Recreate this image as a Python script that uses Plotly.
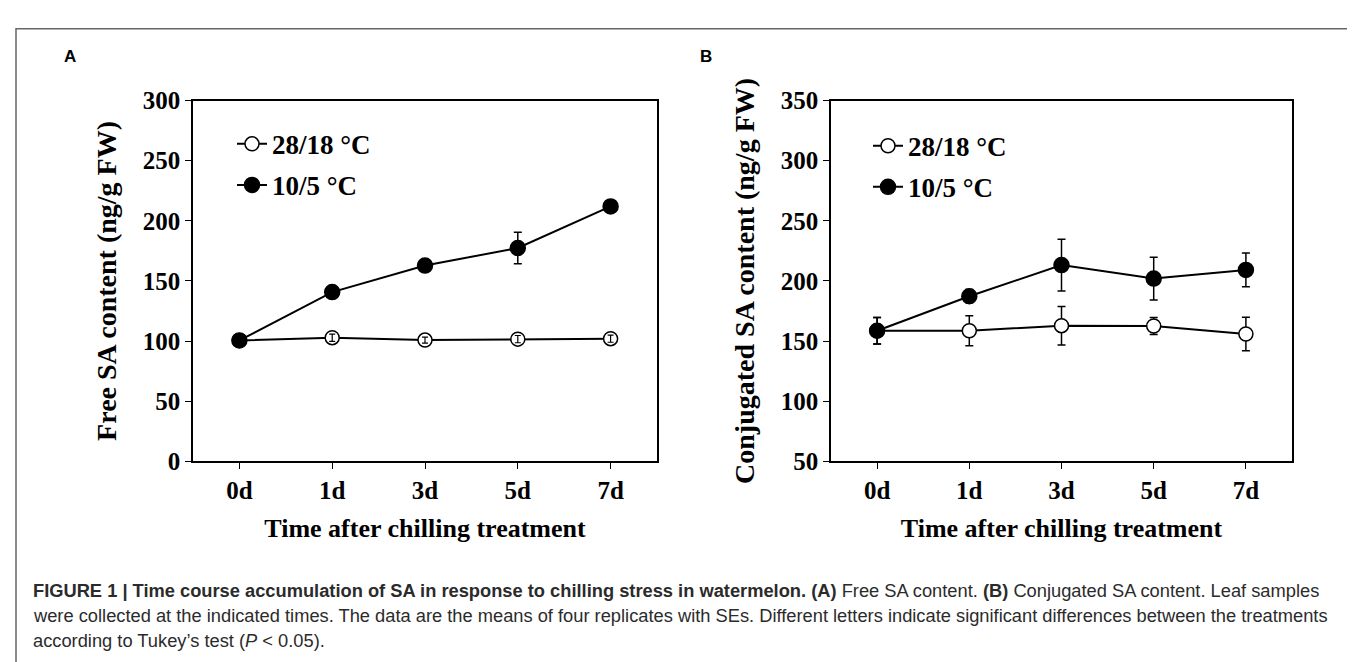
import plotly.graph_objects as go

# ---------------- data ----------------
days = ["0d", "1d", "3d", "5d", "7d"]

free_warm = [100.5, 102.8, 100.8, 101.6, 102.0]
free_warm_err = [1.5, 3.0, 2.5, 3.0, 3.0]
free_cold = [100.5, 140.7, 162.8, 177.4, 212.0]
free_cold_err = [2.0, 2.5, 2.5, 13.0, 2.5]

conj_warm = [158.6, 158.6, 162.8, 162.5, 155.9]
conj_warm_err = [11.0, 12.5, 16.0, 7.0, 14.0]
conj_cold = [158.6, 187.3, 213.2, 202.0, 209.2]
conj_cold_err = [11.0, 5.5, 21.5, 17.8, 14.0]

series_names = ["28/18 °C", "10/5 °C"]
y_ticks_a = [0, 50, 100, 150, 200, 250, 300]
y_ticks_b = [50, 100, 150, 200, 250, 300, 350]

# ---------------- styles ----------------
W, H = 1355, 662
SERIF = "Liberation Serif, Times New Roman, serif"
SANS = "Liberation Sans, Arial, Helvetica, sans-serif"
BLACK = "#000000"

def px_x(v):
    return v / W

def px_y(v):
    return 1 - v / H

dom_y = [px_y(459), px_y(83)]
dom_xa = [px_x(185), px_x(649)]
dom_xb = [px_x(823), px_x(1284)]

fig = go.Figure()

def add_series(xa, ya, yvals, errs, name, filled, legend, overlay_err=False):
    marker = dict(
        symbol="circle",
        size=15 if filled else 14,
        color=BLACK if filled else "white",
        line=dict(color=BLACK, width=1.5),
    )
    fig.add_trace(go.Scatter(
        x=days, y=yvals, name=name, mode="lines+markers",
        line=dict(color=BLACK, width=2),
        marker=marker,
        error_y=dict(type="data", array=errs, visible=not overlay_err,
                     color=BLACK, thickness=1.5, width=4),
        xaxis=xa, yaxis=ya, legend=legend, legendgroup=legend + name,
    ))
    if overlay_err:
        fig.add_trace(go.Scatter(
            x=days, y=yvals, mode="markers", showlegend=False,
            marker=dict(size=1, color="rgba(0,0,0,0)"),
            error_y=dict(type="data", array=errs, color=BLACK,
                         thickness=1.2, width=3),
            xaxis=xa, yaxis=ya, hoverinfo="skip",
        ))

# Panel A
add_series("x", "y", free_warm, free_warm_err, series_names[0], False, "legend", overlay_err=True)
add_series("x", "y", free_cold, free_cold_err, series_names[1], True, "legend")
# Panel B
add_series("x2", "y2", conj_warm, conj_warm_err, series_names[0], False, "legend2")
add_series("x2", "y2", conj_cold, conj_cold_err, series_names[1], True, "legend2")

tickfont = dict(family=SERIF, size=25, color=BLACK, weight="bold")
xtitlefont = dict(family=SERIF, size=26, color=BLACK, weight="bold")
ytitlefont = dict(family=SERIF, size=28, color=BLACK, weight="bold")

xaxis_common = dict(
    type="category", range=[-0.5, 4.5],
    showline=True, linecolor=BLACK, linewidth=1.5, mirror=True,
    ticks="outside", ticklen=6, tickwidth=1.2, tickcolor=BLACK,
    showgrid=False, zeroline=False, tickfont=tickfont,
    title=dict(text="Time after chilling treatment", font=xtitlefont, standoff=16),
)
yaxis_common = dict(
    showline=True, linecolor=BLACK, linewidth=1.5, mirror=True,
    ticks="outside", ticklen=6, tickwidth=1.2, tickcolor=BLACK,
    showgrid=False, zeroline=False, tickfont=tickfont,
)

legend_common = dict(
    font=dict(family=SERIF, size=27, color=BLACK, weight="bold"),
    bgcolor="rgba(0,0,0,0)", borderwidth=0,
    xanchor="left", yanchor="top",
    traceorder="grouped", tracegroupgap=3,
    itemwidth=30,
)

fig.update_layout(
    width=W, height=H,
    margin=dict(l=0, r=0, t=0, b=0),
    paper_bgcolor="white", plot_bgcolor="white",
    showlegend=True,
    xaxis=dict(domain=dom_xa, anchor="y", **xaxis_common),
    yaxis=dict(domain=dom_y, anchor="x", range=[0, 300], tickvals=y_ticks_a,
               title=dict(text="Free SA content (ng/g FW)", font=ytitlefont, standoff=18),
               **yaxis_common),
    xaxis2=dict(domain=dom_xb, anchor="y2", **xaxis_common),
    yaxis2=dict(domain=dom_y, anchor="x2", range=[50, 350], tickvals=y_ticks_b,
                title=dict(text="Conjugated SA content (ng/g FW)", font=ytitlefont, standoff=18),
                **yaxis_common),
    legend=dict(x=px_x(224), y=px_y(103), **legend_common),
    legend2=dict(x=px_x(860), y=px_y(105), **legend_common),
)

# outer figure frame (decorative)
fig.add_shape(type="rect", xref="paper", yref="paper",
              x0=px_x(8), x1=1.2, y0=-0.2, y1=px_y(8),
              line=dict(color="#666666", width=1.5), layer="below")

# panel labels
for lab, xc in (("A", 62), ("B", 698)):
    fig.add_annotation(text=lab, xref="paper", yref="paper", x=px_x(xc), y=px_y(37),
                       xanchor="center", yanchor="middle", showarrow=False,
                       font=dict(family=SANS, size=17, color=BLACK, weight="bold"))

caption_lines = [
    "<b>FIGURE 1 | Time course accumulation of SA in response to chilling stress in watermelon. (A)</b> Free SA content. <b>(B)</b> Conjugated SA content. Leaf samples",
    "were collected at the indicated times. The data are the means of four replicates with SEs. Different letters indicate significant differences between the treatments",
    "according to Tukey’s test (<i>P</i> &lt; 0.05).",
]
caption_y = [594, 620, 646]
for line, yc in zip(caption_lines, caption_y):
    fig.add_annotation(text=line, xref="paper", yref="paper", x=px_x(23), y=px_y(yc),
                       xanchor="left", yanchor="middle", align="left", showarrow=False,
                       font=dict(family=SANS, size=18.3, color="#2b2b2b"))

fig.write_html("out.html")
